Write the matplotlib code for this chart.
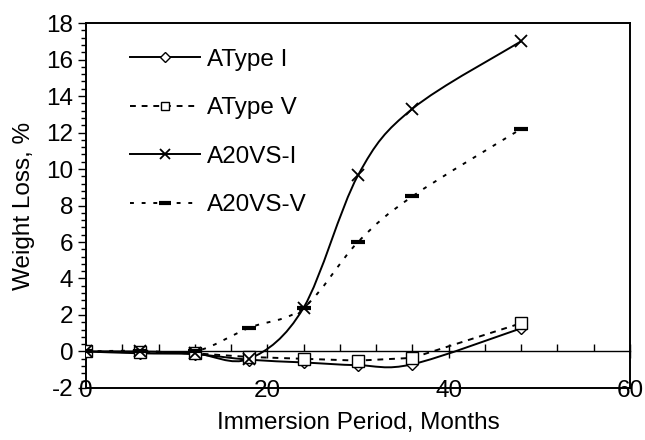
import matplotlib
matplotlib.use("Agg")
import matplotlib.pyplot as plt
from matplotlib.path import Path
from matplotlib.patches import PathPatch
from matplotlib.lines import Line2D
from matplotlib.ticker import MultipleLocator
import numpy as np

plt.rcParams['font.family'] = ['Liberation Sans', 'DejaVu Sans']
plt.rcParams['axes.unicode_minus'] = False

months = [0, 6, 12, 18, 24, 30, 36, 48]
atype_i = [0.0, -0.1, -0.15, -0.45, -0.6, -0.75, -0.7, 1.27]
atype_v = [0.0, -0.05, -0.1, -0.3, -0.4, -0.5, -0.35, 1.55]
a20vs_i = [0.0, 0.0, -0.1, -0.4, 2.4, 9.65, 13.3, 17.0]
a20vs_v = [0.0, 0.05, 0.0, 1.3, 2.4, 6.0, 8.5, 12.2]
series_names = ["AType I", "AType V", "A20VS-I", "A20VS-V"]
x_ticks = [0, 20, 40, 60]
y_ticks = [-2, 0, 2, 4, 6, 8, 10, 12, 14, 16, 18]

FS = 17.5


def smooth_path(xs, ys):
    pts = np.column_stack([xs, ys]).astype(float)
    n = len(pts)
    verts = [pts[0]]
    codes = [Path.MOVETO]
    for i in range(n - 1):
        p0 = pts[i - 1] if i > 0 else pts[i]
        p1 = pts[i]
        p2 = pts[i + 1]
        p3 = pts[i + 2] if i + 2 < n else pts[i + 1]
        c1 = p1 + (p2 - p0) / 6.0
        c2 = p2 - (p3 - p1) / 6.0
        verts += [c1, c2, p2]
        codes += [Path.CURVE4] * 3
    return Path(verts, codes)


fig = plt.figure(figsize=(6.45, 4.40), dpi=100)
ax = fig.add_axes([0.1333, 0.1182, 0.8434, 0.8295])
ax.set_xlim(0, 60)
ax.set_ylim(-2, 18)

lw = 1.4
styles = [
    dict(data=atype_i, ls='-', smooth=True, marker='D', ms=6.5, mfc='white', mew=1.0),
    dict(data=atype_v, ls=(0, (3, 3)), smooth=False, marker='s', ms=8, mfc='white', mew=1.0),
    dict(data=a20vs_i, ls='-', smooth=True, marker='x', ms=9, mfc='none', mew=1.3),
    dict(data=a20vs_v, ls=(0, (2, 4)), smooth=True, marker='_', ms=10, mfc='none', mew=3.0),
]

handles = []
for name, st in zip(series_names, styles):
    if st['smooth']:
        patch = PathPatch(smooth_path(months, st['data']), fill=False,
                          edgecolor='black', lw=lw, linestyle=st['ls'], zorder=3)
        ax.add_patch(patch)
    else:
        ax.plot(months, st['data'], color='black', lw=lw, linestyle=st['ls'], zorder=3)
    ax.plot(months, st['data'], linestyle='none', marker=st['marker'], ms=st['ms'],
            mfc=st['mfc'], mec='black', mew=st['mew'], zorder=4)
    handles.append(Line2D([0], [0], color='black', lw=lw, linestyle=st['ls'],
                          marker=st['marker'], ms=st['ms'] * 0.8, mfc=st['mfc'],
                          mec='black', mew=st['mew']))

# frame
for s in ['left', 'right', 'top', 'bottom']:
    ax.spines[s].set_linewidth(1.4)
    ax.spines[s].set_color('black')

# y axis ticks
ax.set_yticks(y_ticks)
ax.yaxis.set_minor_locator(MultipleLocator(0.4))
ax.tick_params(axis='y', which='major', direction='out', length=6, width=1, labelsize=FS, pad=3)
ax.tick_params(axis='y', which='minor', direction='out', length=3.5, width=1)

# x tick labels sit on bottom frame line
ax.set_xticks(x_ticks)
ax.tick_params(axis='x', which='major', length=0, labelsize=FS, pad=-5.5)

# x axis crossing at y=0
sec = ax.secondary_xaxis(0.1)
sec.spines['bottom'].set_linewidth(1.0)
sec.set_xticks(x_ticks)
sec.xaxis.set_minor_locator(MultipleLocator(4))
sec.tick_params(axis='x', which='major', direction='inout', length=10, width=1, labelbottom=False)
sec.tick_params(axis='x', which='minor', direction='in', length=5, width=1)
sec.set_xticklabels([])

ax.set_ylabel("Weight Loss, %", fontsize=FS, labelpad=8.5)
ax.set_xlabel("Immersion Period, Months", fontsize=FS, labelpad=7)

leg = ax.legend(handles, series_names, loc='upper left', bbox_to_anchor=(0.0404, 0.989),
                frameon=False, fontsize=FS, handlelength=2.9, handletextpad=0.29,
                labelspacing=1.09, numpoints=1)

fig.savefig("out.png", dpi=100)
